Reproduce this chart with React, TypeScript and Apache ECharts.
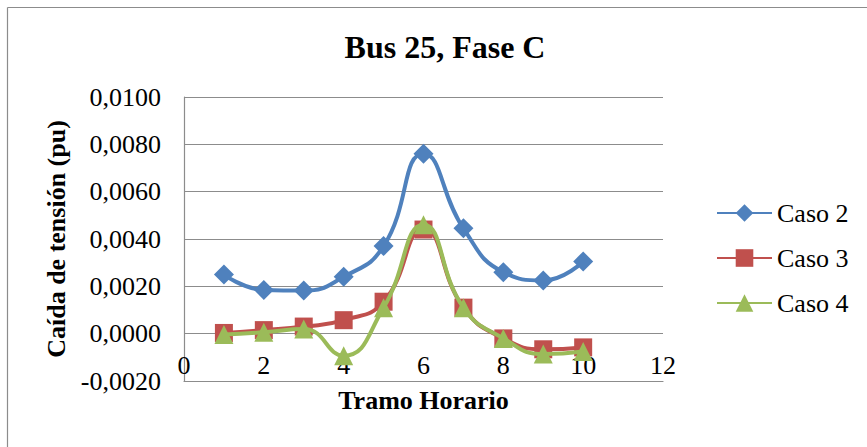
import React, { useEffect, useRef } from "react";
import * as echarts from "echarts";

const hours = [1, 2, 3, 4, 5, 6, 7, 8, 9, 10];
const caso2 = [0.0025, 0.00185, 0.00182, 0.0024, 0.0037, 0.0076, 0.00445, 0.0026, 0.00225, 0.00305];
const caso3 = [0.00003, 0.00015, 0.0003, 0.00057, 0.00135, 0.0044, 0.0011, -0.0002, -0.00066, -0.00058];
const caso4 = [-0.00003, 0.00006, 0.0002, -0.00093, 0.0011, 0.0046, 0.0011, -0.0002, -0.00086, -0.00075];
const seriesNames = ["Caso 2", "Caso 3", "Caso 4"];
const colors = ["#4F81BD", "#C0504D", "#9BBB59"];
const symbols = ["diamond", "rect", "triangle"];
const symbolSizes = [20, 18, 19];

const FONT = "Liberation Serif, serif";
const GRID = "#8c8c8c";

export default function App() {
  const ref = useRef<HTMLDivElement>(null);
  useEffect(() => {
    if (!ref.current) return;
    const chart = echarts.init(ref.current, null, { renderer: "svg" });
    const datasets = [caso2, caso3, caso4];
    chart.setOption({
      animation: false,
      backgroundColor: "#ffffff",
      textStyle: { fontFamily: FONT },
      title: {
        text: "Bus 25, Fase C",
        left: 440,
        top: 26,
        textAlign: "center",
        textStyle: { fontFamily: FONT, fontSize: 32, fontWeight: "bold", color: "#000" },
      },
      graphic: [
        { type: "line", shape: { x1: 7.5, y1: 7.5, x2: 867, y2: 7.5 }, style: { stroke: GRID, lineWidth: 1.2 } },
        { type: "line", shape: { x1: 7.5, y1: 7.5, x2: 7.5, y2: 447 }, style: { stroke: GRID, lineWidth: 1.2 } },
      ],
      legend: {
        orient: "vertical",
        left: 716,
        top: 200,
        padding: 0,
        itemWidth: 55,
        itemHeight: 22,
        itemGap: 19,
        data: seriesNames,
        textStyle: { fontFamily: FONT, fontSize: 26, color: "#000" },
      },
      grid: { left: 184, top: 97, right: 204, bottom: 66, containLabel: false, outerBoundsMode: "none" },
      xAxis: {
        type: "value",
        min: 0,
        max: 12,
        interval: 2,
        name: "Tramo Horario",
        nameLocation: "middle",
        nameGap: 6,
        nameTextStyle: { fontFamily: FONT, fontSize: 26, fontWeight: "bold", color: "#000", verticalAlign: "top" },
        axisLine: { show: true, onZero: false, lineStyle: { color: GRID, width: 1.2 } },
        axisTick: { show: false },
        axisLabel: { margin: -29, fontFamily: FONT, fontSize: 26, color: "#000" },
        splitLine: { show: false },
      },
      yAxis: {
        type: "value",
        min: -0.002,
        max: 0.01,
        interval: 0.002,
        name: "Caída de tensión (pu)",
        nameLocation: "middle",
        nameRotate: 90,
        nameGap: 115,
        nameTextStyle: { fontFamily: FONT, fontSize: 26, fontWeight: "bold", color: "#000" },
        axisLine: { show: true, lineStyle: { color: GRID, width: 1.2 } },
        axisTick: { show: false },
        axisLabel: {
          margin: 23,
          fontFamily: FONT,
          fontSize: 26,
          color: "#000",
          formatter: (v: number) => {
            const val = Math.abs(v) < 1e-12 ? 0 : v;
            return val.toFixed(4).replace(".", ",");
          },
        },
        splitLine: { show: true, lineStyle: { color: GRID, width: 1.2 } },
      },
      series: seriesNames.map((name, i) => ({
        name,
        type: "line",
        smooth: 0.5,
        data: hours.map((h, j) => [h, datasets[i][j]]),
        symbol: symbols[i],
        symbolSize: symbolSizes[i],
        showSymbol: true,
        color: colors[i],
        lineStyle: { color: colors[i], width: 4 },
        itemStyle: { color: colors[i] },
        z: 2 + i,
      })),
    });
    return () => chart.dispose();
  }, []);
  return <div ref={ref} style={{ position: "absolute", left: 0, top: 0, width: 867, height: 447 }} />;
}
